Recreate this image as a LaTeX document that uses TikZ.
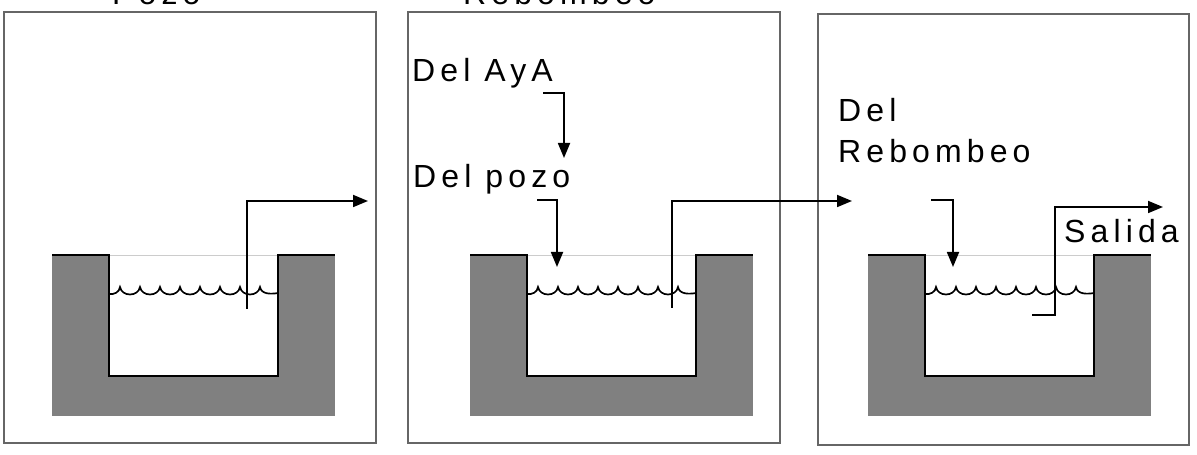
\documentclass[tikz,border=0pt]{standalone}
\usepackage{fontspec}
\setmainfont[LetterSpace=16]{Liberation Sans}
\usetikzlibrary{arrows.meta}
\tikzset{
  caja/.style={draw=black!60, line width=1.8pt},
  pared/.style={fill=black!50},
  borde/.style={line width=2.6pt, line join=miter},
  agua/.style={line width=1.7pt},
  flujo/.style={line width=1.8pt, -{Triangle[length=15pt,width=12pt]}},
  rotulo/.style={anchor=base west, inner sep=0pt, font=\fontsize{32}{41}\selectfont},
}

\begin{document}
\begin{tikzpicture}[x=1pt,y=1pt]
    \useasboundingbox (0,0) rectangle (1197,455);

    \draw[caja] (4,12) rectangle (376,443);
    \draw[caja] (408,12) rectangle (780,443);
    \draw[caja] (818,10) rectangle (1189,441);

    \foreach \o in {0,418,816} {
        \fill[pared] (52+\o,39) rectangle (335+\o,200);
        \fill[white] (109+\o,79) rectangle (278+\o,200);
        \draw[black!20, line width=0.8pt] (109+\o,200) -- (278+\o,200);
        \draw[borde] (52+\o,200) -- (109+\o,200) -- (109+\o,79)
            -- (278+\o,79) -- (278+\o,200) -- (335+\o,200);
        \draw[agua] (109+\o,161) to[out=-10,in=-95] (120+\o,168)
            foreach \k in {0,...,6} { to[out=-80,in=-100,looseness=1.3] ({140+20*\k+\o},168) }
            to[out=-80,in=-170] (278+\o,162);
    }

    \node[rotulo] (pozo) at (112,450) {Pozo};
    \node[rotulo] (rebombeo) at (463,450) {Rebombeo};
    \node[rotulo] (aya) at (412,373) {Del AyA};
    \node[rotulo] (delpozo) at (413,267) {Del pozo};
    \node[rotulo] (delreb) at (838,333) {Del};
    \node[rotulo] (delreb2) at (838,292) {Rebombeo};
    \node[rotulo] (salida) at (1064,212) {Salida};

    \coordinate (p1a) at (247,146);
    \coordinate (p1b) at (368,254);
    \coordinate (p2a) at (672,147);
    \coordinate (p2b) at (852,254);
    \coordinate (ayaa) at (543,362);
    \coordinate (ayab) at (564,297);
    \coordinate (pozoa) at (537,255);
    \coordinate (pozob) at (557,188);
    \coordinate (reba) at (931,255);
    \coordinate (rebb) at (953,188);
    \coordinate (sala) at (1032,140);
    \coordinate (salb) at (1055,140);
    \coordinate (salc) at (1163,248);

    \draw[flujo] (p1a) |- (p1b);
    \draw[flujo] (p2a) |- (p2b);
    \draw[flujo] (ayaa) -| (ayab);
    \draw[flujo] (pozoa) -| (pozob);
    \draw[flujo] (reba) -| (rebb);
    \draw[flujo] (sala) -- (salb) |- (salc);
\end{tikzpicture}
\end{document}
